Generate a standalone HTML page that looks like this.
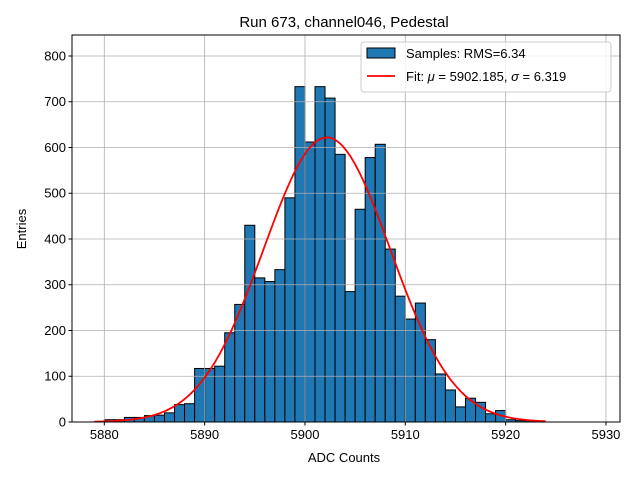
<!DOCTYPE html>
<html><head><meta charset="utf-8"><style>
body{margin:0;background:#fff}
svg text{font-family:"Liberation Sans","DejaVu Sans",sans-serif;fill:#000}
</style></head><body>
<svg id="chart" width="640" height="480" xmlns="http://www.w3.org/2000/svg">
<rect width="640" height="480" fill="#fff"/>
<text x="344" y="27" font-size="15" text-anchor="middle">Run 673, channel046, Pedestal</text>
<g id="bars"></g>
<g id="grid"></g>
<path id="fit" fill="none" stroke="#ff0000" stroke-width="1.8"/>
<rect x="72" y="35" width="548" height="387" fill="none" stroke="#000" stroke-width="1"/>
<g id="ticks"></g>
<text x="344" y="462" font-size="13" text-anchor="middle">ADC Counts</text>
<text x="26" y="229" font-size="13" text-anchor="middle" transform="rotate(-90 26 229)">Entries</text>
<g>
<rect x="361" y="42" width="250" height="50" rx="3" fill="#fff" fill-opacity="0.8" stroke="#ccc"/>
<rect x="367" y="48" width="28" height="10" fill="#1f77b4" stroke="#000"/>
<text x="406" y="58" font-size="13">Samples: RMS=6.34</text>
<line x1="367" y1="76" x2="395" y2="76" stroke="#ff0000" stroke-width="1.8"/>
<text x="406" y="81" font-size="13">Fit: <tspan font-style="italic">μ</tspan> = 5902.185, <tspan font-style="italic">σ</tspan> = 6.319</text>
</g>
</svg>
<script>
const binStarts=[5880,5881,5882,5883,5884,5885,5886,5887,5888,5889,5890,5891,5892,5893,5894,5895,5896,5897,5898,5899,5900,5901,5902,5903,5904,5905,5906,5907,5908,5909,5910,5911,5912,5913,5914,5915,5916,5917,5918,5919,5920,5921,5922];
const counts=[5,5,10,10,14,15,20,38,40,117,117,122,195,257,430,315,307,333,490,733,612,733,708,585,285,465,578,607,378,275,225,260,180,105,70,33,52,43,18,25,5,3,3];
const xTicks=[5880,5890,5900,5910,5920,5930];
const yTicks=[0,100,200,300,400,500,600,700,800];
const fitMu=5902.185, fitSigma=6.319, fitAmp=622;
const X0=72,X1=620,Y0=422,Y1=35,xmin=5876.78,xmax=5931.4,ymax=845.9;
const sx=v=>X0+(v-xmin)/(xmax-xmin)*(X1-X0);
const sy=v=>Y0-v/ymax*(Y0-Y1);
const NS="http://www.w3.org/2000/svg";
const grid=document.getElementById('grid'),bars=document.getElementById('bars'),ticks=document.getElementById('ticks');
function mk(tag,attrs,parent){const e=document.createElementNS(NS,tag);for(const k in attrs)e.setAttribute(k,attrs[k]);parent.appendChild(e);return e;}
xTicks.forEach(t=>{const x=sx(t);
 const g=mk('line',{x1:x,x2:x,y1:Y1,y2:Y0,stroke:'#b0b0b0','stroke-width':0.8},grid);
 
 
 const tk=mk('line',{x1:x,x2:x,y1:Y0,y2:Y0+3.5,stroke:'#000'},ticks);
 
 
 const tx=mk('text',{x:x,y:Y0+17,'font-size':13,'text-anchor':'middle'},ticks);tx.textContent=t;
 
 
});
yTicks.forEach(t=>{const y=sy(t);
 const g=mk('line',{x1:X0,x2:X1,y1:y,y2:y,stroke:'#b0b0b0','stroke-width':0.8},grid);
 
 
 const tk=mk('line',{x1:X0-3.5,x2:X0,y1:y,y2:y,stroke:'#000'},ticks);
 
 
 const tx=mk('text',{x:X0-6,y:y+4.5,'font-size':13,'text-anchor':'end'},ticks);tx.textContent=t;
 
 
});
binStarts.forEach((b,i)=>{const x=sx(b),w=sx(b+1)-x,y=sy(counts[i]);
 const r=mk('rect',{x:x,y:y,width:w,height:Y0-y,fill:'#1f77b4',stroke:'#000','stroke-width':1},bars);
 
 
});
let d='';for(let v=5879;v<=5924;v+=0.25){const f=fitAmp*Math.exp(-0.5*((v-fitMu)/fitSigma)**2);d+=(d?'L':'M')+sx(v).toFixed(2)+','+sy(f).toFixed(2);}
document.getElementById('fit').setAttribute('d',d);
</script>
</body></html>
